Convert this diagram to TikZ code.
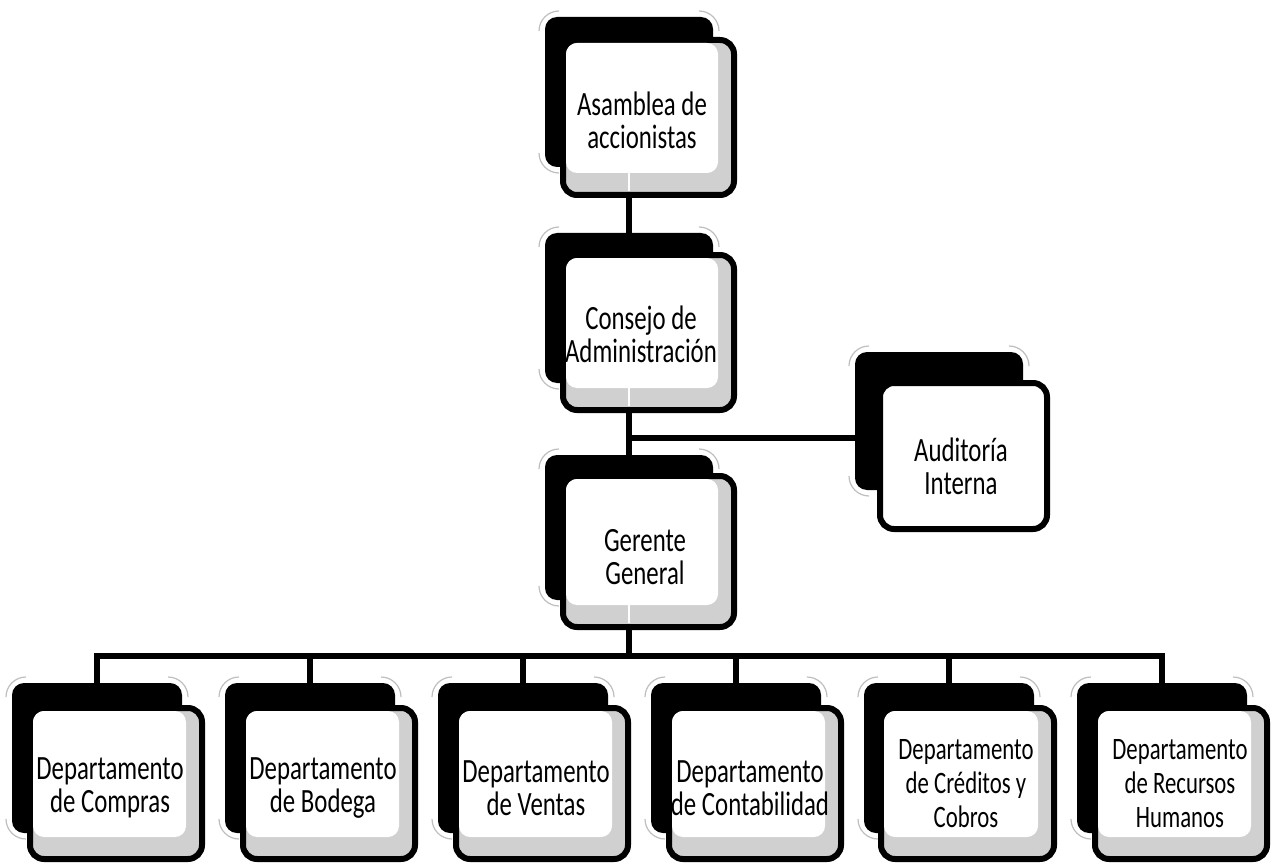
\documentclass[tikz,border=0pt]{standalone}
\usepackage{fontspec}
\newfontfamily\boxfont[FakeStretch=0.73]{Carlito}
\usetikzlibrary{calc}
\pgfdeclarelayer{background}
\pgfsetlayers{background,main}
\definecolor{stripgrey}{RGB}{208,208,208}
\definecolor{arcgrey}{RGB}{190,190,190}
\tikzset{
  backbox/.style={fill=black, draw=none, rounded corners=9pt, inner sep=0pt, outer sep=0pt},
  frontbox/.style={fill=stripgrey, draw=black, line width=4.5pt, rounded corners=10.5pt, inner sep=0pt, outer sep=0pt},
  whitefront/.style={frontbox, fill=white},
  arcline/.style={draw=arcgrey, line width=0.9pt},
  conn/.style={draw=black, line width=3.9pt},
  gapline/.style={draw=white, line width=2.2pt},
  boxtext/.style={font=\boxfont\fontsize{25.5pt}{24.75pt}\selectfont, align=center, inner sep=0pt, text=black},
  smalltext/.style={font=\boxfont\fontsize{23.4pt}{25.5pt}\selectfont, align=center, inner sep=0pt, text=black}
}
% #1 name, #2 style of front, #3 back left, #4 back top, #5 back right, #6 back bottom,
% #7 front left, #8 front top, #9 front right ; front bottom passed via \fb
\newcommand\orgbox[9]{%
  \draw[arcline] ({#3-6},{#4+14}) arc[start angle=180, end angle=270, radius=20];
  \draw[arcline] ({#5-14},{#4-6}) arc[start angle=270, end angle=360, radius=20];
  \draw[arcline] ({#3+14},{#6+6}) arc[start angle=90, end angle=180, radius=20];
  \node[backbox, minimum width={(#5-#3)*0.75pt}, minimum height={(#6-#4)*0.75pt}] (#1b) at ({(#3+#5)/2},{(#4+#6)/2}) {};
  \node[#2, minimum width={(#9-#7-6)*0.75pt}, minimum height={(\fb-#8-6)*0.75pt}] (#1) at ({(#7+#9)/2},{(#8+\fb)/2}) {};
}
\newcommand\innerwhite[1]{%
  \fill[white, rounded corners=8.25pt] ($(#1.north west)+(3,3)$) rectangle ($(#1.south east)+(-16,-22)$);
}
\newcommand\gap[1]{%
  \draw[gapline] ($(#1b.south |- #1.south)+(0,-22)$) -- ($(#1b.south |- #1.south)+(0,-4)$);
}
\begin{document}
\begin{tikzpicture}[x=0.75pt,y=-0.75pt]
\useasboundingbox (0,0) rectangle (1271,863);

% top column
\def\fb{198}\orgbox{asam}{frontbox}{545}{17}{713}{167}{560}{37}{737}
\innerwhite{asam}\gap{asam}
\node[boxtext] (asamt) at (642,120) {Asamblea de\\accionistas};

\def\fb{413}\orgbox{cons}{frontbox}{545}{233}{713}{383}{560}{252}{737}
\innerwhite{cons}\gap{cons}
\node[boxtext] (const) at (641,334) {Consejo de\\Administración};

\def\fb{630}\orgbox{ger}{frontbox}{545}{455}{713}{600}{560}{473}{737}
\innerwhite{ger}\gap{ger}
\node[boxtext] (gert) at (645,557) {Gerente\\General};

\def\fb{532}\orgbox{aud}{whitefront}{855}{352}{1023}{490}{877}{380}{1050}
\node[boxtext] (audt) at (961,466) {Auditoría\\Interna};

% bottom row
\def\fb{862}
\orgbox{d1}{frontbox}{12}{683}{182}{833}{27}{705}{205}
\innerwhite{d1}
\node[boxtext] (d1t) at (110,788) {Departamento\\de Compras};
\orgbox{d2}{frontbox}{225}{683}{395}{833}{240}{705}{418}
\innerwhite{d2}
\node[boxtext] (d2t) at (323,788) {Departamento\\de Bodega};
\orgbox{d3}{frontbox}{438}{683}{608}{833}{453}{705}{631}
\innerwhite{d3}
\node[boxtext] (d3t) at (536,788) {Departamento\\de Ventas};
\orgbox{d4}{frontbox}{651}{683}{821}{833}{666}{705}{844}
\innerwhite{d4}
\node[boxtext] (d4t) at (750,788) {Departamento\\de Contabilidad};
\orgbox{d5}{frontbox}{864}{683}{1034}{833}{878}{705}{1057}
\innerwhite{d5}
\node[smalltext] (d5t) at (966,784) {Departamento\\de Créditos y\\Cobros};
\orgbox{d6}{frontbox}{1077}{683}{1247}{833}{1092}{705}{1270}
\innerwhite{d6}
\node[smalltext] (d6t) at (1180,784) {Departamento\\de Recursos\\Humanos};

% connectors
\begin{pgfonlayer}{background}
\coordinate (audj) at (629,438);
\coordinate (bus) at (629,656);
\draw[conn] (asamb.south) -- (consb.north);
\draw[conn] (consb.south) -- (gerb.north);
\draw[conn] (audj) -- (audj -| audb.west);
\draw[conn] (gerb.south) -- (bus);
\foreach \d in {d1,d2,d3,d4,d5,d6}{
  \draw[conn] (\d b.north) |- (bus);
}
\end{pgfonlayer}
\end{tikzpicture}
\end{document}
